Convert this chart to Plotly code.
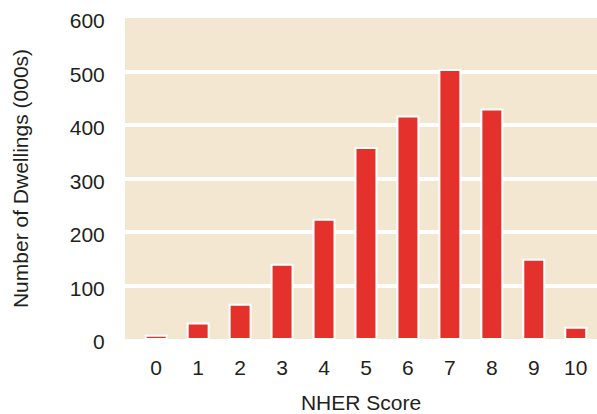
import plotly.graph_objects as go

scores = ["0", "1", "2", "3", "4", "5", "6", "7", "8", "9", "10"]
dwellings = [6, 29, 64, 139, 223, 357, 416, 503, 429, 148, 21]
y_ticks = [0, 100, 200, 300, 400, 500, 600]

FONT = "Liberation Sans, Arial, Helvetica, sans-serif"
TXT = "#231f20"

fig = go.Figure(
    go.Bar(
        x=list(range(len(scores))),
        y=dwellings,
        width=0.5,
        marker=dict(color="#e5312b", line=dict(color="white", width=2)),
    )
)

fig.update_layout(
    width=597,
    height=414,
    margin=dict(l=125, r=0, t=18, b=75),
    paper_bgcolor="white",
    plot_bgcolor="#f3e7d2",
    font=dict(family=FONT, size=21, color=TXT),
    showlegend=False,
)

fig.update_xaxes(
    tickmode="array",
    tickvals=list(range(len(scores))),
    ticktext=scores,
    range=[-0.744, 10.507],
    showgrid=False,
    zeroline=False,
    showline=False,
    ticks="outside",
    ticklen=10,
    tickcolor="rgba(0,0,0,0)",
    title=dict(text="NHER Score", standoff=19, font=dict(size=21)),
)

fig.update_yaxes(
    tickmode="array",
    tickvals=y_ticks,
    range=[0, 600],
    showgrid=True,
    gridcolor="white",
    gridwidth=4,
    zeroline=False,
    showline=False,
    ticks="outside",
    ticklen=15,
    tickcolor="rgba(0,0,0,0)",
    ticklabelshift=3,
    ticklabeloverflow="allow",
    title=dict(text="Number of Dwellings (000s)", standoff=35, font=dict(size=21)),
)

fig.write_html(
    "out.html",
    config={"displayModeBar": False},
    post_script="document.body.style.margin='0';",
)
